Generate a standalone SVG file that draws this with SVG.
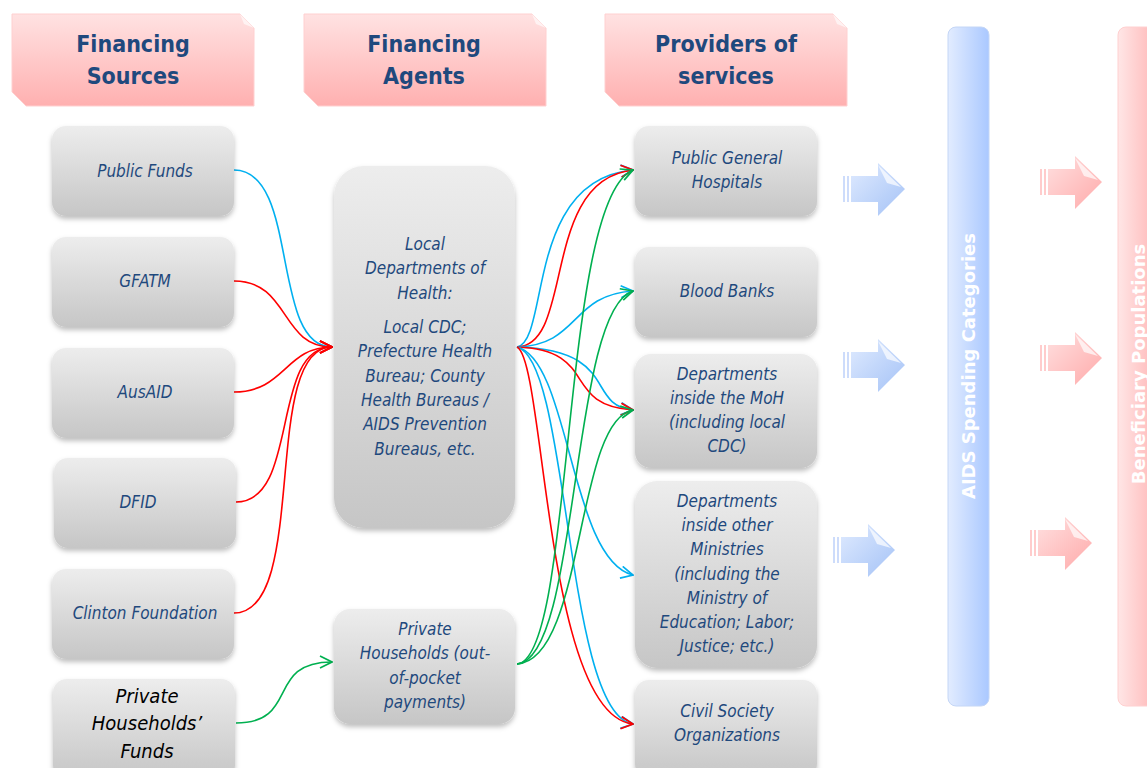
<svg xmlns="http://www.w3.org/2000/svg" width="1147" height="768" viewBox="0 0 1147 768">
<defs>
<linearGradient id="gNode" x1="0" y1="0" x2="0" y2="1"><stop offset="0" stop-color="#ededed"/><stop offset="1" stop-color="#c6c6c6"/></linearGradient>
<linearGradient id="gHead" x1="0" y1="0" x2="0" y2="1"><stop offset="0" stop-color="#ffe2e2"/><stop offset="1" stop-color="#ffb0b0"/></linearGradient>
<linearGradient id="gBlueBar" x1="0" y1="0" x2="1" y2="0"><stop offset="0" stop-color="#e2ecff"/><stop offset="1" stop-color="#aac8ff"/></linearGradient>
<linearGradient id="gPinkBar" x1="0" y1="0" x2="1" y2="0"><stop offset="0" stop-color="#ffe6e6"/><stop offset="1" stop-color="#ffb4b4"/></linearGradient>
<linearGradient id="gBlueArr" x1="0" y1="0" x2="1" y2="1"><stop offset="0" stop-color="#e0ebff"/><stop offset="1" stop-color="#a4c2f6"/></linearGradient>
<linearGradient id="gPinkArr" x1="0" y1="0" x2="1" y2="1"><stop offset="0" stop-color="#ffe0e0"/><stop offset="1" stop-color="#ffaaaa"/></linearGradient>
<filter id="sh" x="-10%" y="-10%" width="130%" height="130%"><feDropShadow dx="0" dy="3" stdDeviation="2.5" flood-color="#000" flood-opacity="0.25"/></filter>
<marker id="aB" viewBox="0 0 14 14" refX="13" refY="7" markerWidth="14" markerHeight="14" markerUnits="userSpaceOnUse" orient="auto"><path d="M1,1 L13,7 L1,13" fill="none" stroke="#00b0f0" stroke-width="1.7"/></marker>
<marker id="aR" viewBox="0 0 14 14" refX="13" refY="7" markerWidth="14" markerHeight="14" markerUnits="userSpaceOnUse" orient="auto"><path d="M1,1 L13,7 L1,13" fill="none" stroke="#ff0000" stroke-width="1.7"/></marker>
<marker id="aG" viewBox="0 0 14 14" refX="13" refY="7" markerWidth="14" markerHeight="14" markerUnits="userSpaceOnUse" orient="auto"><path d="M1,1 L13,7 L1,13" fill="none" stroke="#00b050" stroke-width="1.7"/></marker>
<g id="blueArrow"><rect x="0" y="13" width="2" height="26" fill="#cddcfb"/><rect x="4" y="13" width="2" height="26" fill="#cddcfb"/><path d="M8,13 H35 V0 L62,26 L35,53 V39 H8 Z" fill="url(#gBlueArr)"/><path d="M35,2 L58,24 L44,20 Z" fill="#ffffff" opacity="0.7"/></g>
<g id="pinkArrow"><rect x="0" y="13" width="2" height="26" fill="#ffcccc"/><rect x="4" y="13" width="2" height="26" fill="#ffcccc"/><path d="M8,13 H35 V0 L62,26 L35,53 V39 H8 Z" fill="url(#gPinkArr)"/><path d="M35,2 L58,24 L44,20 Z" fill="#ffffff" opacity="0.7"/></g>
</defs>
<style>
.node{fill:url(#gNode);filter:url(#sh)}
.head{fill:url(#gHead);stroke:#ffd0d0;stroke-width:1}
.fold{fill:#fff4f4;opacity:0.9}
.ht{font-family:"DejaVu Sans Condensed","DejaVu Sans",sans-serif;font-weight:bold;font-size:23px;fill:#1f497d;text-anchor:middle}
.t{font-family:"DejaVu Sans Condensed","DejaVu Sans",sans-serif;font-style:italic;font-size:17px;fill:#1f497d;text-anchor:middle}
.tk{font-family:"DejaVu Sans Condensed","DejaVu Sans",sans-serif;font-style:italic;font-size:20px;fill:#000;text-anchor:middle}
.bt{font-family:"DejaVu Sans",sans-serif;font-weight:bold;font-size:18px;fill:#fff;text-anchor:middle}
.c{fill:none;stroke-width:1.6}
.b{stroke:#00b0f0}.r{stroke:#ff0000}.g{stroke:#00b050}
</style>
<rect width="1147" height="768" fill="#fff"/>

<g id="h1"><path class="head" d="M12,14 H240 L254,28 V106 H26 L12,92 Z"/><path class="fold" d="M240,14 L254,28 L244,24 Z"/><path class="fold" d="M12,92 L26,106 L16,96 Z"/><text class="ht" x="133" y="52">Financing</text><text class="ht" x="133" y="84">Sources</text></g>
<g id="h2"><path class="head" d="M304,14 H532 L546,28 V106 H318 L304,92 Z"/><path class="fold" d="M532,14 L546,28 L536,24 Z"/><path class="fold" d="M304,92 L318,106 L308,96 Z"/><text class="ht" x="424" y="52">Financing</text><text class="ht" x="424" y="84">Agents</text></g>
<g id="h3"><path class="head" d="M605,14 H833 L847,28 V106 H619 L605,92 Z"/><path class="fold" d="M833,14 L847,28 L837,24 Z"/><path class="fold" d="M605,92 L619,106 L609,96 Z"/><text class="ht" x="726" y="52">Providers of</text><text class="ht" x="726" y="84">services</text></g>

<g id="barBlue"><rect x="948" y="27" width="41" height="679" rx="8" fill="url(#gBlueBar)" stroke="#c4d6f6" stroke-width="1"/><text class="bt" transform="translate(975,366) rotate(-90)">AIDS Spending Categories</text></g>
<g id="barPink"><rect x="1118" y="27" width="41" height="679" rx="8" fill="url(#gPinkBar)" stroke="#ffd0d0" stroke-width="1"/><text class="bt" transform="translate(1145,364) rotate(-90)">Beneficiary Populations</text></g>

<g id="arrowsBlue"><use href="#blueArrow" x="843" y="163"/><use href="#blueArrow" x="843" y="339"/><use href="#blueArrow" x="833" y="524"/></g>
<g id="arrowsPink"><use href="#pinkArrow" x="1040" y="156"/><use href="#pinkArrow" x="1040" y="332"/><use href="#pinkArrow" x="1030" y="517"/></g>

<g id="connectors">
<path class="c b" d="M234,170 C300,170 270,347 332,347" marker-end="url(#aB)"/>
<path class="c r" d="M234,281 C290,281 280,347 332,347" marker-end="url(#aR)"/>
<path class="c r" d="M234,392 C285,392 285,347 332,347" marker-end="url(#aR)"/>
<path class="c r" d="M236,502 C300,502 270,347 332,347" marker-end="url(#aR)"/>
<path class="c r" d="M234,613 C310,613 260,347 332,347" marker-end="url(#aR)"/>
<path class="c g" d="M236,723 C300,723 265,662 332,662" marker-end="url(#aG)"/>

<path class="c b" d="M517,347 C550,340 525,180 633,170" marker-end="url(#aB)"/>
<path class="c r" d="M517,347 C575,345 540,180 633,170" marker-end="url(#aR)"/>
<path class="c b" d="M517,347 C580,345 570,295 633,291" marker-end="url(#aB)"/>
<path class="c b" d="M517,347 C620,350 585,405 633,410" marker-end="url(#aB)"/>
<path class="c r" d="M517,347 C600,350 560,405 633,410" marker-end="url(#aR)"/>
<path class="c b" d="M517,347 C570,360 570,560 633,575" marker-end="url(#aB)"/>
<path class="c b" d="M517,347 C570,360 565,715 633,724" marker-end="url(#aB)"/>
<path class="c r" d="M517,347 C545,360 545,715 633,724" marker-end="url(#aR)"/>
<path class="c g" d="M517,664 C575,660 560,200 633,170" marker-end="url(#aG)"/>
<path class="c g" d="M517,664 C580,660 570,310 633,291" marker-end="url(#aG)"/>
<path class="c g" d="M517,664 C585,660 575,420 633,410" marker-end="url(#aG)"/>
</g>

<g id="n-public-funds"><rect class="node" x="52" y="126" width="182" height="90" rx="14"/><text class="t" x="145" y="177">Public Funds</text></g>
<g id="n-gfatm"><rect class="node" x="52" y="237" width="182" height="90" rx="14"/><text class="t" x="145" y="287">GFATM</text></g>
<g id="n-ausaid"><rect class="node" x="52" y="348" width="182" height="90" rx="14"/><text class="t" x="145" y="398">AusAID</text></g>
<g id="n-dfid"><rect class="node" x="54" y="458" width="182" height="90" rx="14"/><text class="t" x="138" y="508">DFID</text></g>
<g id="n-clinton"><rect class="node" x="52" y="569" width="182" height="90" rx="14"/><text class="t" x="145" y="619">Clinton Foundation</text></g>
<g id="n-private-funds"><rect class="node" x="53" y="679" width="182" height="100" rx="14"/><text class="tk" x="147" y="703">Private</text><text class="tk" x="147" y="730">Households’</text><text class="tk" x="147" y="758">Funds</text></g>

<g id="n-local-depts"><rect class="node" x="334" y="166" width="181" height="362" rx="30"/>
<text class="t" x="425" y="250">Local</text><text class="t" x="425" y="274">Departments of</text><text class="t" x="425" y="299">Health:</text>
<text class="t" x="425" y="333">Local CDC;</text><text class="t" x="425" y="357">Prefecture Health</text><text class="t" x="425" y="382">Bureau; County</text><text class="t" x="425" y="406">Health Bureaus /</text><text class="t" x="425" y="430">AIDS Prevention</text><text class="t" x="425" y="455">Bureaus, etc.</text></g>
<g id="n-private-hh"><rect class="node" x="334" y="609" width="181" height="115" rx="16"/>
<text class="t" x="425" y="635">Private</text><text class="t" x="425" y="659">Households (out-</text><text class="t" x="425" y="684">of-pocket</text><text class="t" x="425" y="708">payments)</text></g>

<g id="n-hospitals"><rect class="node" x="635" y="126" width="182" height="90" rx="14"/><text class="t" x="727" y="164">Public General</text><text class="t" x="727" y="188">Hospitals</text></g>
<g id="n-blood"><rect class="node" x="635" y="247" width="182" height="90" rx="14"/><text class="t" x="727" y="297">Blood Banks</text></g>
<g id="n-moh"><rect class="node" x="635" y="354" width="182" height="114" rx="16"/><text class="t" x="727" y="380">Departments</text><text class="t" x="727" y="404">inside the MoH</text><text class="t" x="727" y="428">(including local</text><text class="t" x="727" y="452">CDC)</text></g>
<g id="n-ministries"><rect class="node" x="635" y="481" width="182" height="187" rx="22"/><text class="t" x="727" y="507">Departments</text><text class="t" x="727" y="531">inside other</text><text class="t" x="727" y="555">Ministries</text><text class="t" x="727" y="580">(including the</text><text class="t" x="727" y="604">Ministry of</text><text class="t" x="727" y="628">Education; Labor;</text><text class="t" x="727" y="652">Justice; etc.)</text></g>
<g id="n-civil"><rect class="node" x="635" y="680" width="182" height="98" rx="14"/><text class="t" x="727" y="717">Civil Society</text><text class="t" x="727" y="741">Organizations</text></g>
</svg>
